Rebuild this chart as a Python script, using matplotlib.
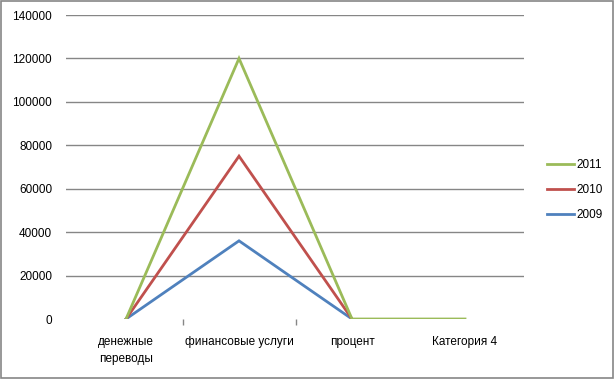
import matplotlib
matplotlib.use('Agg')
import matplotlib.pyplot as plt
from matplotlib.patches import Rectangle
import numpy as np

matplotlib.rcParams['font.family'] = ['Liberation Sans', 'DejaVu Sans']

categories = ['денежные\nпереводы', 'финансовые услуги', 'процент', 'Категория 4']
years = ['2011', '2010', '2009']
values_2011 = [0, 120000, 0, 0]
values_2010 = [0, 75000, 0, np.nan]
values_2009 = [0, 36000, 0, np.nan]
colors = {'2011': '#9BBB59', '2010': '#C0504D', '2009': '#4F81BD'}
yticks = [0, 20000, 40000, 60000, 80000, 100000, 120000, 140000]

fig = plt.figure(figsize=(6.14, 3.79), dpi=100)
ax = fig.add_axes([66 / 614, 60 / 379, 458 / 614, 304 / 379])

x = np.arange(len(categories))
series = {'2011': values_2011, '2010': values_2010, '2009': values_2009}
for y in ['2009', '2010', '2011']:
    ax.plot(x, series[y], color=colors[y], linewidth=2, label=y,
            solid_joinstyle='miter', zorder=3)

ax.set_xlim(-0.531, 3.522)
ax.set_ylim(0, 140000)
ax.set_yticks(yticks)
ax.set_yticklabels([str(v) for v in yticks], fontsize=8.5)
ax.tick_params(axis='y', length=0, pad=10)
ax.grid(axis='y', color='#868686', linewidth=1, zorder=0)
ax.yaxis.get_gridlines()[0].set_visible(False)

ax.set_xticks(x)
ax.set_xticklabels(categories, fontsize=8.5, linespacing=1.55)
ax.tick_params(axis='x', which='major', length=0, pad=12)
ax.set_xticks([0.5, 1.5], minor=True)
ax.tick_params(axis='x', which='minor', length=4, color='#868686', width=1, pad=0)

for s in ax.spines.values():
    s.set_visible(False)

handles, labels = ax.get_legend_handles_labels()
order = [2, 1, 0]
ax.legend([handles[i] for i in order], [labels[i] for i in order],
          loc='center left', bbox_to_anchor=(536 / 614, 189 / 379),
          bbox_transform=fig.transFigure, frameon=False, fontsize=8.5,
          handlelength=2.3, handletextpad=0.2, labelspacing=1.1)

fig.patches.append(Rectangle((0.5 / 614, 1.5 / 379), 612.5 / 614, 376.5 / 379,
                             transform=fig.transFigure, fill=False,
                             edgecolor='#868686', linewidth=1.2))

plt.savefig('out.png', dpi=100)
